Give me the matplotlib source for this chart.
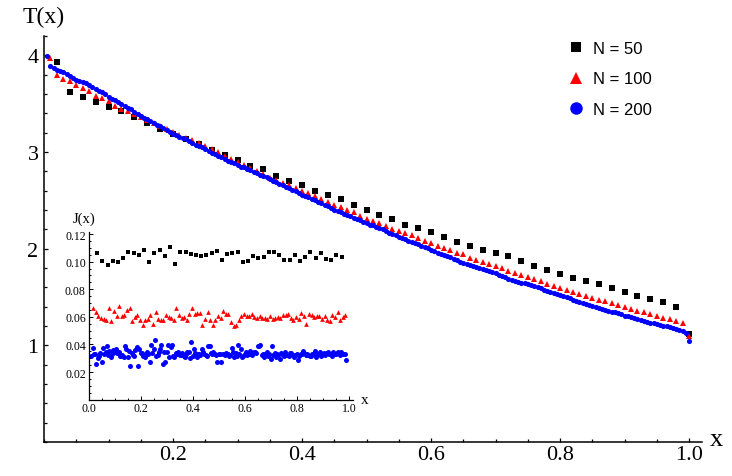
import numpy as np
import matplotlib
matplotlib.use("Agg")
import matplotlib.pyplot as plt
from matplotlib.lines import Line2D
from matplotlib.ticker import MultipleLocator, FixedLocator

# ---- main panel: temperature profiles T(x) ----
T50 = [3.93, 3.62, 3.57, 3.52, 3.47, 3.42, 3.36, 3.30, 3.24, 3.19,
       3.13, 3.08, 3.02, 2.97, 2.92, 2.86, 2.82, 2.75, 2.70, 2.66,
       2.60, 2.56, 2.51, 2.45, 2.40, 2.35, 2.31, 2.25, 2.21, 2.17,
       2.12, 2.07, 2.03, 1.99, 1.96, 1.92, 1.87, 1.82, 1.78, 1.74,
       1.70, 1.67, 1.63, 1.59, 1.55, 1.51, 1.48, 1.45, 1.40, 1.12]

T100 = [3.97, 3.80, 3.76, 3.73, 3.69, 3.66, 3.63, 3.58, 3.56, 3.53,
        3.48, 3.45, 3.42, 3.39, 3.36, 3.33, 3.30, 3.27, 3.24, 3.21,
        3.18, 3.15, 3.12, 3.09, 3.06, 3.03, 3.00, 2.96, 2.93, 2.90,
        2.865, 2.830, 2.799, 2.768, 2.733, 2.713, 2.678, 2.658, 2.627, 2.592,
        2.575, 2.541, 2.513, 2.485, 2.451, 2.430, 2.399, 2.375, 2.334, 2.306,
        2.285, 2.265, 2.231, 2.203, 2.182, 2.161, 2.137, 2.110, 2.082, 2.055,
        2.030, 2.009, 1.986, 1.954, 1.941, 1.905, 1.882, 1.858, 1.837, 1.816,
        1.796, 1.765, 1.748, 1.727, 1.703, 1.686, 1.662, 1.634, 1.610, 1.589,
        1.572, 1.551, 1.531, 1.507, 1.489, 1.468, 1.458, 1.437, 1.417, 1.396,
        1.375, 1.355, 1.341, 1.324, 1.303, 1.282, 1.272, 1.251, 1.231, 1.093]

T200 = [3.99, 3.89, 3.87, 3.85, 3.84, 3.83, 3.81, 3.79, 3.77, 3.75,
        3.73, 3.72, 3.71, 3.69, 3.67, 3.65, 3.63, 3.62, 3.60, 3.57,
        3.55, 3.54, 3.52, 3.50, 3.48, 3.46, 3.44, 3.41, 3.39, 3.37,
        3.35, 3.34, 3.32, 3.30, 3.28, 3.27, 3.25, 3.23, 3.21, 3.19,
        3.18, 3.16, 3.14, 3.13, 3.11, 3.09, 3.07, 3.06, 3.05, 3.03,
        3.01, 2.99, 2.98, 2.96, 2.95, 2.93, 2.91, 2.90, 2.89, 2.87,
        2.85, 2.84, 2.82, 2.81, 2.79, 2.78, 2.76, 2.75, 2.74, 2.72,
        2.70, 2.69, 2.67, 2.66, 2.64, 2.63, 2.61, 2.60, 2.58, 2.56,
        2.55, 2.53, 2.51, 2.50, 2.48, 2.47, 2.45, 2.44, 2.42, 2.40,
        2.39, 2.38, 2.36, 2.35, 2.34, 2.32, 2.31, 2.30, 2.28, 2.27,
        2.25, 2.24, 2.22, 2.21, 2.20, 2.18, 2.16, 2.15, 2.14, 2.12,
        2.11, 2.10, 2.08, 2.07, 2.06, 2.05, 2.03, 2.02, 2.01, 1.99,
        1.98, 1.96, 1.95, 1.93, 1.92, 1.91, 1.89, 1.88, 1.86, 1.85,
        1.84, 1.83, 1.82, 1.81, 1.80, 1.79, 1.78, 1.77, 1.76, 1.75,
        1.73, 1.72, 1.71, 1.69, 1.68, 1.67, 1.66, 1.65, 1.64, 1.63,
        1.62, 1.61, 1.60, 1.59, 1.57, 1.56, 1.55, 1.54, 1.53, 1.52,
        1.51, 1.50, 1.49, 1.47, 1.46, 1.45, 1.44, 1.43, 1.42, 1.405,
        1.40, 1.39, 1.38, 1.37, 1.36, 1.35, 1.34, 1.33, 1.32, 1.305,
        1.30, 1.29, 1.28, 1.275, 1.265, 1.255, 1.245, 1.235, 1.23, 1.22,
        1.21, 1.20, 1.195, 1.185, 1.175, 1.165, 1.155, 1.145, 1.13, 1.05]

# ---- inset: heat current J(x) ----
J50 = [0.1060, 0.1002, 0.0978, 0.1007, 0.0995, 0.1024, 0.1072, 0.1062,
       0.1046, 0.1086, 0.0999, 0.1062, 0.1086, 0.1038, 0.1103, 0.0983,
       0.1072, 0.1067, 0.1055, 0.1048, 0.1043, 0.1048, 0.1062, 0.1079,
       0.1014, 0.1053, 0.1062, 0.1072, 0.0995, 0.1002, 0.1038, 0.1029,
       0.1031, 0.1067, 0.1067, 0.1048, 0.1014, 0.1014, 0.1048, 0.1004,
       0.1033, 0.1067, 0.1029, 0.1065, 0.1019, 0.1012, 0.1048, 0.1036]

J100 = [0.0664, 0.0633, 0.0604, 0.0594, 0.0584, 0.0577, 0.0664, 0.0572, 0.0644, 0.0604,
        0.0680, 0.0604, 0.0613, 0.0649, 0.0664, 0.0572, 0.0599, 0.0613, 0.0577, 0.0541,
        0.0579, 0.0584, 0.0613, 0.0548, 0.0637, 0.0584, 0.0579, 0.0577, 0.0613, 0.0601,
        0.0589, 0.0575, 0.0664, 0.0613, 0.0589, 0.0596, 0.0577, 0.0620, 0.0664, 0.0618,
        0.0628, 0.0628, 0.0541, 0.0584, 0.0637, 0.0579, 0.0541, 0.0579, 0.0604,
        0.0589, 0.0644, 0.0620, 0.0620, 0.0560, 0.0531, 0.0541, 0.0579, 0.0604, 0.0620,
        0.0604, 0.0608, 0.0620, 0.0596, 0.0589, 0.0608, 0.0589, 0.0589, 0.0584, 0.0604,
        0.0584, 0.0589, 0.0596, 0.0589, 0.0613, 0.0613, 0.0620, 0.0589, 0.0577, 0.0596,
        0.0584, 0.0628, 0.0608, 0.0548, 0.0620, 0.0613, 0.0596, 0.0604, 0.0608, 0.0584,
        0.0604, 0.0579, 0.0572, 0.0613, 0.0596, 0.0637, 0.0577, 0.0596, 0.0613]

J200 = [0.0315, 0.0373, 0.0333, 0.0330, 0.0258, 0.0299, 0.0320, 0.0338, 0.0275,
        0.0373, 0.0330, 0.0345, 0.0388, 0.0323, 0.0354, 0.0312, 0.0330, 0.0362,
        0.0343, 0.0367, 0.0338, 0.0347, 0.0318, 0.0315, 0.0326, 0.0306, 0.0388,
        0.0367, 0.0306, 0.0350, 0.0246, 0.0338, 0.0323, 0.0318, 0.0362, 0.0379,
        0.0246, 0.0367, 0.0340, 0.0338, 0.0315, 0.0306, 0.0328, 0.0343, 0.0330,
        0.0275, 0.0396, 0.0335, 0.0367, 0.0434, 0.0315, 0.0322, 0.0343, 0.0367,
        0.0396, 0.0258, 0.0344, 0.0270, 0.0343, 0.0396, 0.0310, 0.0379, 0.0396,
        0.0315, 0.0306, 0.0336, 0.0330, 0.0347, 0.0323, 0.0325, 0.0338, 0.0315,
        0.0306, 0.0330, 0.0342, 0.0343, 0.0299, 0.0420, 0.0315, 0.0367, 0.0338,
        0.0306, 0.0330, 0.0332, 0.0323, 0.0367, 0.0343, 0.0329, 0.0323, 0.0318,
        0.0388, 0.0391, 0.0339, 0.0330, 0.0343, 0.0330, 0.0321, 0.0275, 0.0330,
        0.0330, 0.0275, 0.0328, 0.0330, 0.0323, 0.0336, 0.0330, 0.0315, 0.0322, 0.0373,
        0.0343, 0.0306, 0.0341, 0.0318, 0.0396, 0.0331, 0.0367, 0.0306, 0.0319, 0.0330,
        0.0343, 0.0323, 0.0334, 0.0354, 0.0330, 0.0326, 0.0343, 0.0347, 0.0339, 0.0388,
        0.0391, 0.0396, 0.0324, 0.0330, 0.0306, 0.0333, 0.0343, 0.0315, 0.0329, 0.0294,
        0.0388, 0.0323, 0.0337, 0.0306, 0.0330, 0.0321, 0.0294, 0.0338, 0.0332, 0.0318,
        0.0347, 0.0323, 0.0327, 0.0315, 0.0338, 0.0335, 0.0323, 0.0306, 0.0323, 0.0330,
        0.0290, 0.0318, 0.0330, 0.0330, 0.0354, 0.0338, 0.0323, 0.0330, 0.0325, 0.0318,
        0.0315, 0.0330, 0.0331, 0.0354, 0.0306, 0.0334, 0.0330, 0.0343, 0.0320, 0.0330,
        0.0338, 0.0323, 0.0336, 0.0343, 0.0330, 0.0328, 0.0318, 0.0343, 0.0332, 0.0330,
        0.0338, 0.0347, 0.0326, 0.0343, 0.0330, 0.0333, 0.0329, 0.0290]

labels = ["N = 50", "N = 100", "N = 200"]
colors = ["black", "red", "blue"]
markers = ["s", "^", "o"]

# site positions i/N and bond positions (i+1/2)/N
x50 = np.arange(1, len(T50) + 1) / 50
x100 = np.arange(1, len(T100) + 1) / 100
x200 = np.arange(1, len(T200) + 1) / 200
xj50 = (np.arange(len(J50)) + 1.5) / 50
xj100 = (np.arange(len(J100)) + 1.5) / 100
xj200 = (np.arange(len(J200)) + 1.5) / 200

serif = "Liberation Serif"
sans = "Liberation Sans"

fig = plt.figure(figsize=(7.32, 4.77), dpi=100)
ax = fig.add_axes([44 / 732, 34 / 477, 658 / 732, 406 / 477])

for (x, y), c, m, ms in zip([(x50, T50), (x100, T100), (x200, T200)],
                            colors, markers, [3.8, 3.9, 3.7]):
    ax.plot(x, y, linestyle="none", marker=m, color=c, markersize=ms,
            markeredgewidth=0, clip_on=False)

ax.set_xlim(0, 1.02)
ax.set_ylim(0, 4.2)
for s in ["top", "right"]:
    ax.spines[s].set_visible(False)
for s in ["left", "bottom"]:
    ax.spines[s].set_linewidth(1.1)
ax.xaxis.set_major_locator(FixedLocator([0.2, 0.4, 0.6, 0.8, 1.0]))
ax.xaxis.set_minor_locator(MultipleLocator(0.05))
ax.yaxis.set_major_locator(FixedLocator([1, 2, 3, 4]))
ax.yaxis.set_minor_locator(MultipleLocator(0.2))
ax.set_xticklabels(["0.2", "0.4", "0.6", "0.8", "1.0"])
ax.set_yticklabels(["1", "2", "3", "4"])
ax.tick_params(which="both", direction="in", width=0.9)
ax.tick_params(which="major", length=3.2)
ax.tick_params(which="minor", length=2.0)
ax.tick_params(axis="x", pad=2)
ax.tick_params(axis="y", pad=4)
for lab in ax.get_xticklabels() + ax.get_yticklabels():
    lab.set_fontfamily(serif)
    lab.set_fontsize(16)

fig.text(44 / 732, 1 - 17 / 477, "T(x)", family=serif, fontsize=17,
         ha="center", va="center")
fig.text(716 / 732, 1 - 440 / 477, "x", family=serif, fontsize=19,
         ha="center", va="center")

handles = [Line2D([], [], linestyle="none", marker=m, color=c,
                  markersize=ms, markeredgewidth=0)
           for m, c, ms in zip(markers, colors, [7.5, 8.5, 9])]
leg = fig.legend(handles, labels, loc="upper left",
                 bbox_to_anchor=(568 / 732, 1 - 42 / 477), frameon=False,
                 handlelength=1.0, handletextpad=0.5, labelspacing=0.92,
                 borderpad=0, borderaxespad=0,
                 prop={"family": sans, "size": 12})

# ---- inset ----
axi = fig.add_axes([89.3 / 732, 76.3 / 477, 263.4 / 732, 167.7 / 477])
axi.patch.set_visible(False)
for (x, y), c, m, ms in zip([(xj50, J50), (xj100, J100), (xj200, J200)],
                            colors, markers, [3.4, 3.4, 3.6]):
    axi.plot(x, y, linestyle="none", marker=m, color=c, markersize=ms,
             markeredgewidth=0, clip_on=False)
axi.set_xlim(0, 1.013)
axi.set_ylim(0, 0.1215)
for s in ["top", "right"]:
    axi.spines[s].set_visible(False)
for s in ["left", "bottom"]:
    axi.spines[s].set_linewidth(0.9)
axi.xaxis.set_major_locator(FixedLocator([0, 0.2, 0.4, 0.6, 0.8, 1.0]))
axi.xaxis.set_minor_locator(MultipleLocator(0.05))
axi.yaxis.set_major_locator(FixedLocator([0.02, 0.04, 0.06, 0.08, 0.10, 0.12]))
axi.yaxis.set_minor_locator(MultipleLocator(0.005))
axi.set_xticklabels(["0.0", "0.2", "0.4", "0.6", "0.8", "1.0"])
axi.set_yticklabels(["0.02", "0.04", "0.06", "0.08", "0.10", "0.12"])
axi.tick_params(which="both", direction="in", width=0.7)
axi.tick_params(which="major", length=2.6)
axi.tick_params(which="minor", length=1.6)
axi.tick_params(axis="x", pad=2)
axi.tick_params(axis="y", pad=2.5)
for lab in axi.get_xticklabels() + axi.get_yticklabels():
    lab.set_fontfamily(serif)
    lab.set_fontsize(8.5)

fig.text(84 / 732, 1 - 219 / 477, "J(x)", family=serif, fontsize=10.5,
         ha="center", va="center")
fig.text(365 / 732, 1 - 401 / 477, "x", family=serif, fontsize=11,
         ha="center", va="center")

fig.savefig("out.png", dpi=100)
